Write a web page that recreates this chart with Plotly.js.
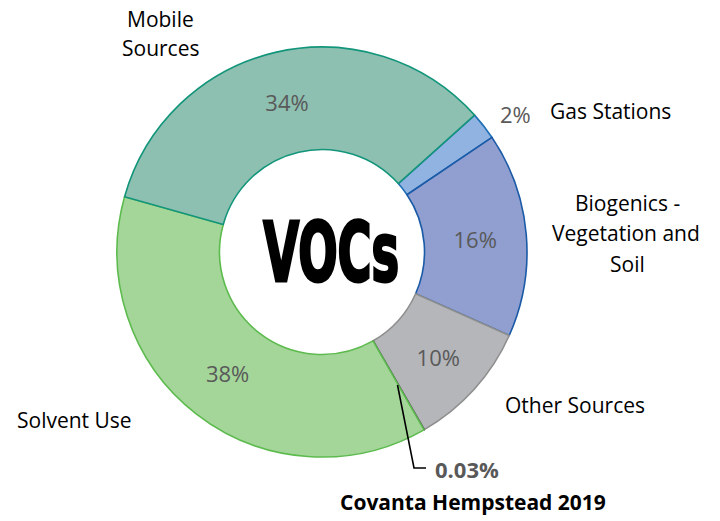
<!DOCTYPE html>
<html>
<head>
<meta charset="utf-8">
<script src="https://cdn.plot.ly/plotly-3.0.1.min.js"></script>
<style>html,body{margin:0;padding:0;background:#fff;}#chart{width:720px;height:521px;}</style>
</head>
<body>
<div id="chart"></div>
<script>
// ---- data ----
const categories = ["Gas Stations", "Biogenics - Vegetation and Soil", "Other Sources", "Covanta Hempstead 2019", "Solvent Use", "Mobile Sources"];
const values = [2.2, 16.1, 10.0, 0.03, 37.6, 34.0];
const percentLabels = ["2%", "16%", "10%", "0.03%", "38%", "34%"];
const centerTitle = "VOCs";
const mobileLines = ["Mobile", "Sources"];
const biogenicLines = ["Biogenics -", "Vegetation and", "Soil"];

// ---- styles ----
const fillColors = ["#90B3E2", "#909FD0", "#B5B6BA", "#9A9A9A", "#A4D69A", "#8EC0B1"];
const lineColors = ["#1F6FB5", "#1A5AA6", "#8E8E8E", "#555555", "#5DBB4E", "#12957A"];
const textPos = ["none", "inside", "inside", "none", "inside", "inside"];

const cx = 322 / 720, cy = 1 - 252 / 521;
const rx = 205 / 720, ry = 205 / 521;

const trace = {
  type: "pie",
  labels: categories,
  values: values,
  text: percentLabels,
  texttemplate: "%{text}",
  textposition: textPos,
  insidetextorientation: "horizontal",
  sort: false,
  direction: "clockwise",
  rotation: 48.1,
  hole: 0.5,
  domain: {x: [cx - rx, cx + rx], y: [cy - ry, cy + ry]},
  marker: {colors: fillColors, line: {color: lineColors, width: 1.6}},
  insidetextfont: {family: "Open Sans", size: 22, color: "#595959"},
  hoverinfo: "none",
  showlegend: false
};

const lblFont = {family: "Open Sans", size: 21, color: "#000000"};
function px(x) { return x / 720; }
function py(y) { return 1 - y / 521; }
function ann(text, x, y, font, extra) {
  return Object.assign({text: text, x: px(x), y: py(y), xref: "paper", yref: "paper",
    xanchor: "center", yanchor: "middle", showarrow: false, font: font}, extra || {});
}

const annotations = [
  ann(centerTitle, 331, 253, {family: "DejaVu Sans Condensed", size: 82, color: "#000", weight: 900}),
  ann(mobileLines[0], 160, 19, lblFont),
  ann(mobileLines[1], 160, 48, lblFont),
  ann(percentLabels[0], 515, 114, {family: "Open Sans", size: 22, color: "#595959"}),
  ann(categories[0], 610, 111, lblFont),
  ann(biogenicLines[0], 627, 203, lblFont),
  ann(biogenicLines[1], 626, 233, lblFont),
  ann(biogenicLines[2], 627, 264, lblFont),
  ann(categories[2], 575, 405, lblFont),
  ann(categories[4], 74, 420, lblFont),
  ann(percentLabels[3], 467, 469, {family: "Open Sans", size: 22, color: "#595959", weight: "bold"}),
  ann(categories[3], 473, 502, {family: "Open Sans", size: 21, color: "#000", weight: "bold"})
];

const shapes = [{
  type: "path", xref: "paper", yref: "paper",
  path: "M " + px(397.5) + " " + py(385) + " L " + px(414) + " " + py(468) + " L " + px(426) + " " + py(468),
  line: {color: "#000000", width: 1.6}
}];

const layout = {
  width: 720, height: 521,
  margin: {l: 0, r: 0, t: 0, b: 0},
  paper_bgcolor: "#ffffff",
  plot_bgcolor: "#ffffff",
  showlegend: false,
  annotations: annotations,
  shapes: shapes
};

Plotly.newPlot("chart", [trace], layout, {displayModeBar: false, staticPlot: true}).then(function (gd) {
  // condense the centre title horizontally to mimic a heavy condensed display face
  const t = gd.querySelector('.annotation[data-index="0"] text');
  if (t) {
    const b = t.getBBox();
    const c = b.x + b.width / 2;
    const s = 136 / b.width;
    t.setAttribute("transform", "translate(" + c + ",0) scale(" + s + ",1) translate(" + (-c) + ",0)");
    t.style.stroke = "#000";
    t.style.strokeWidth = "3px";
  }
});
</script>
</body>
</html>
